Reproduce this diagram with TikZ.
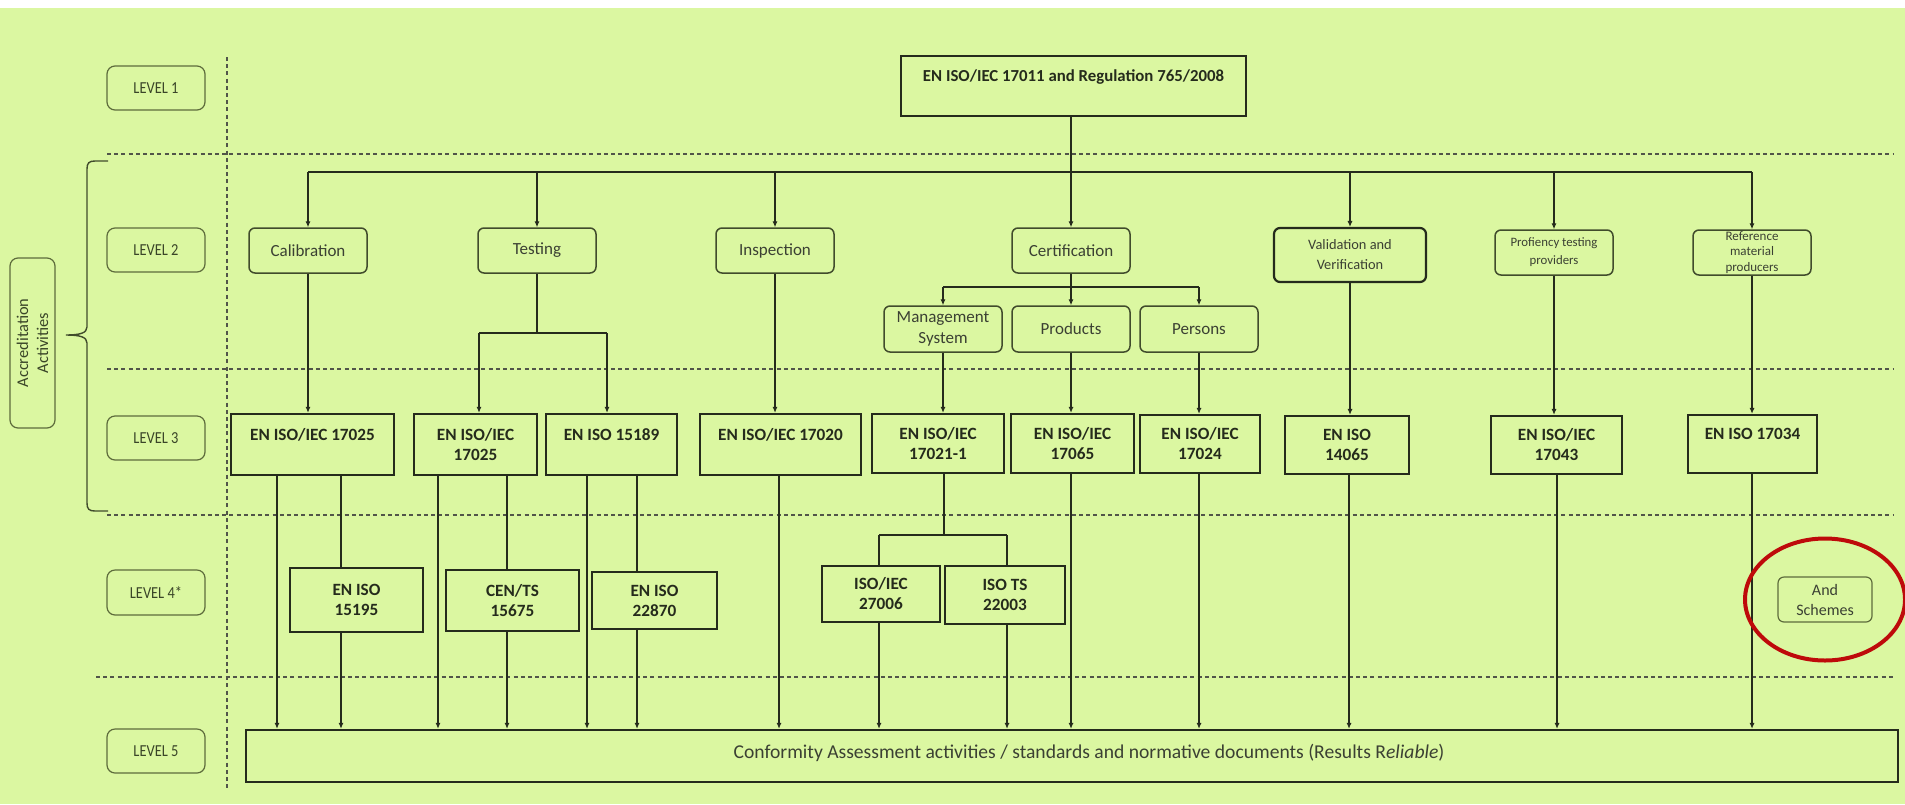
\documentclass[tikz,border=0pt]{standalone}
\usepackage{fontspec}
\setmainfont{Carlito}
\newfontfamily\narrowfont[FakeStretch=0.86]{Carlito}
\usetikzlibrary{arrows.meta,calc}
\definecolor{bg}{HTML}{DBF7A1}
\definecolor{ink}{HTML}{252B1C}
\definecolor{lvlc}{HTML}{5E6C3C}
\definecolor{lvltext}{HTML}{3A4528}
\definecolor{actc}{HTML}{414C2C}
\definecolor{redc}{HTML}{BE0A0A}
\newcommand\bx[7]{%
  \pgfmathsetmacro\cx{(#3+#5)/2}\pgfmathsetmacro\cy{(#4+#6)/2}%
  \pgfmathsetmacro\ww{(#5-#3)/2}\pgfmathsetmacro\hh{(#6-#4)/2}%
  \node[#2, minimum width=\ww pt, minimum height=\hh pt] (#1) at (\cx,\cy) {#7};}
\begin{document}
\begin{tikzpicture}[x=0.5pt,y=-0.5pt,
  lvl/.style={draw=lvlc, line width=0.6pt, rounded corners=4pt, inner sep=0pt,
    align=center, text=lvltext, font=\narrowfont\fontsize{8.4}{10}\selectfont},
  act/.style={draw=actc, line width=0.75pt, rounded corners=3pt, inner sep=0pt,
    align=center, text=ink!90, font=\fontsize{8.5}{10.5}\selectfont},
  std/.style={draw=ink, line width=1.2pt, inner sep=0pt, align=center,
    text=ink, font=\bfseries\fontsize{8.6}{10}\selectfont},
  ln/.style={draw=ink, line width=0.55pt},
  arr/.style={ln, -{Latex[length=3pt,width=2.6pt]}},
  dsh/.style={draw=ink!80, line width=0.55pt, dash pattern=on 2pt off 1.6pt}]
\useasboundingbox (0,0) rectangle (1905,804);
\fill[bg] (0,8) rectangle (1905,804);
\fill[white] (0,0) rectangle (1905,8);

% separators
\draw[dsh] (227,57) -- (227,789);
\draw[dsh] (107,154) -- (1893,154);
\draw[dsh] (107,369) -- (1893,369);
\draw[dsh] (107,515) -- (1893,515);
\draw[dsh] (96,677) -- (1893,677);

% level labels
\bx{L1}{lvl}{107}{66}{205}{110}{LEVEL 1}
\bx{L2}{lvl}{107}{228}{205}{272}{LEVEL 2}
\bx{L3}{lvl}{107}{416}{205}{460}{LEVEL 3}
\bx{L4}{lvl}{107}{570}{205}{615}{LEVEL 4*}
\bx{L5}{lvl}{107}{729}{205}{773}{LEVEL 5}
\node[lvl, font=\fontsize{8.2}{10}\selectfont, rotate=90, minimum width=85pt, minimum height=22.5pt] (AA) at (32.5,343) {Accreditation\\Activities};
\draw[draw=actc, line width=0.7pt] (108,161) -- (95,161) .. controls (89,161) and (87,163) .. (87,169)
  -- (87,327) .. controls (87,333) and (80,335) .. (66,335)
  .. controls (80,335) and (87,337) .. (87,343) -- (87,503)
  .. controls (87,509) and (89,511) .. (95,511) -- (108,511);

% level 1
\bx{T}{std, font=\bfseries\fontsize{8.4}{10}\selectfont}{901}{56}{1246}{116}{EN ISO/IEC 17011 and Regulation 765/2008\\\mbox{}}

% level 2
\bx{Cal}{act}{249}{228}{367}{273}{Calibration}
\bx{Test}{act}{478}{228}{596}{273}{Testing}
\bx{Insp}{act}{716}{228}{834}{273}{Inspection}
\bx{Cert}{act}{1012}{228}{1130}{273}{Certification}
\bx{Valid}{act, draw=ink, line width=1.1pt, font=\fontsize{7.2}{10}\selectfont}{1274}{228}{1426}{282}{Validation and\\Verification}
\bx{Prof}{act, font=\fontsize{6.4}{9}\selectfont}{1495}{230}{1613}{275}{Profiency testing\\providers}
\bx{Ref}{act, font=\fontsize{6.5}{7.6}\selectfont}{1693}{230}{1811}{275}{Reference\\material\\producers}
\bx{MS}{act}{884}{306}{1002}{352}{Management\\System}
\bx{Prod}{act}{1012}{306}{1130}{352}{Products}
\bx{Pers}{act}{1140}{306}{1258}{352}{Persons}

% level 3
\bx{C17025}{std}{231}{414}{394}{475}{EN ISO/IEC 17025\\\mbox{}}
\bx{T17025}{std}{414}{414}{537}{475}{EN ISO/IEC\\17025}
\bx{M15189}{std}{546}{414}{677}{475}{EN ISO 15189\\\mbox{}}
\bx{I17020}{std}{700}{414}{861}{475}{EN ISO/IEC 17020\\\mbox{}}
\bx{C17021}{std}{872}{414}{1004}{473}{EN ISO/IEC\\17021-1}
\bx{C17065}{std}{1011}{414}{1134}{473}{EN ISO/IEC\\17065}
\bx{C17024}{std}{1140}{415}{1260}{473}{EN ISO/IEC\\17024}
\bx{V14065}{std}{1285}{416}{1409}{474}{EN ISO\\14065}
\bx{P17043}{std}{1491}{416}{1622}{474}{EN ISO/IEC\\17043}
\bx{R17034}{std}{1688}{415}{1817}{473}{EN ISO 17034\\\mbox{}}

% level 4
\bx{E15195}{std}{290}{568}{423}{632}{EN ISO\\15195}
\bx{CEN}{std}{446}{570}{579}{631}{CEN/TS\\15675}
\bx{E22870}{std}{592}{572}{717}{629}{EN ISO\\22870}
\bx{I27006}{std}{822}{566}{940}{622}{ISO/IEC\\27006}
\bx{T22003}{std}{945}{566}{1065}{624}{ISO TS\\22003}
\bx{Sch}{act, draw=lvlc, line width=0.6pt, font=\fontsize{8}{10}\selectfont}{1778}{577}{1872}{622}{And\\Schemes}

% level 5
\bx{B5}{std, label={[font=\fontsize{9.8}{11}\selectfont, text=ink!90, xshift=8.5pt, yshift=1.5pt]center:Conformity Assessment activities / standards and normative documents (Results R\textit{eliable})}}{246}{730}{1898}{782}{}

% connectors level 1 -> level 2
\coordinate (bus) at (0,172);
\draw[ln] (Cal.north |- bus) -- (Ref.north |- bus);
\draw[arr] (T.south -| Cert.north) -- (Cert.north);
\foreach \n in {Cal,Test,Insp,Valid,Prof,Ref}{\draw[arr] (\n.north |- bus) -- (\n.north);}

% testing branch
\coordinate (tL) at (479,333);
\coordinate (tR) at (607,333);
\draw[ln] (Test.south) -- (Test.south |- tL);
\draw[ln] (tL) -- (tR);
\draw[arr] (tL) -- (tL |- T17025.north);
\draw[arr] (tR) -- (tR |- M15189.north);

% certification branch
\coordinate (cL) at (943,287);
\coordinate (cR) at (1199,287);
\draw[ln] (Cert.south) -- (Cert.south |- cL);
\draw[ln] (cL) -- (cR);
\draw[arr] (cL) -- (cL |- MS.north);
\draw[arr] (Cert.south |- cL) -- (Prod.north);
\draw[arr] (cR) -- (cR |- Pers.north);

% level 2 -> level 3
\draw[arr] (Cal.south) -- (Cal.south |- C17025.north);
\draw[arr] (Insp.south) -- (Insp.south |- I17020.north);
\draw[arr] (MS.south) -- (MS.south |- C17021.north);
\draw[arr] (Prod.south) -- (Prod.south |- C17065.north);
\draw[arr] (Pers.south) -- (Pers.south |- C17024.north);
\draw[arr] (Valid.south) -- (Valid.south |- V14065.north);
\draw[arr] (Prof.south) -- (Prof.south |- P17043.north);
\draw[arr] (Ref.south) -- (Ref.south |- R17034.north);

% level 3 -> level 4 / 5
\coordinate (a1) at (277,0);  \coordinate (a2) at (341,0);
\coordinate (a3) at (438,0);  \coordinate (a4) at (507,0);
\coordinate (a5) at (587,0);  \coordinate (a6) at (637,0);
\coordinate (a7) at (779,0);  \coordinate (a8) at (1071,0);
\coordinate (a9) at (1199,0); \coordinate (a10) at (1349,0);
\coordinate (a11) at (1557,0); \coordinate (a12) at (1752,0);
\coordinate (k1) at (879,535); \coordinate (k2) at (1007,535);
\coordinate (km) at (944,535);

\draw[arr] (a1 |- C17025.south) -- (a1 |- B5.north);
\draw[ln] (a2 |- C17025.south) -- (a2 |- E15195.north);
\draw[arr] (a2 |- E15195.south) -- (a2 |- B5.north);
\draw[arr] (a3 |- T17025.south) -- (a3 |- B5.north);
\draw[ln] (a4 |- T17025.south) -- (a4 |- CEN.north);
\draw[arr] (a4 |- CEN.south) -- (a4 |- B5.north);
\draw[arr] (a5 |- M15189.south) -- (a5 |- B5.north);
\draw[ln] (a6 |- M15189.south) -- (a6 |- E22870.north);
\draw[arr] (a6 |- E22870.south) -- (a6 |- B5.north);
\draw[arr] (a7 |- I17020.south) -- (a7 |- B5.north);
\draw[ln] (km |- C17021.south) -- (km);
\draw[ln] (k1) -- (k2);
\draw[ln] (k1) -- (k1 |- I27006.north);
\draw[ln] (k2) -- (k2 |- T22003.north);
\draw[arr] (k1 |- I27006.south) -- (k1 |- B5.north);
\draw[arr] (k2 |- T22003.south) -- (k2 |- B5.north);
\draw[arr] (a8 |- C17065.south) -- (a8 |- B5.north);
\draw[arr] (a9 |- C17024.south) -- (a9 |- B5.north);
\draw[arr] (a10 |- V14065.south) -- (a10 |- B5.north);
\draw[arr] (a11 |- P17043.south) -- (a11 |- B5.north);
\draw[arr] (a12 |- R17034.south) -- (a12 |- B5.north);

% highlight
\draw[redc, line width=2pt] (Sch.center) ellipse [x radius=80, y radius=61];
\end{tikzpicture}
\end{document}
